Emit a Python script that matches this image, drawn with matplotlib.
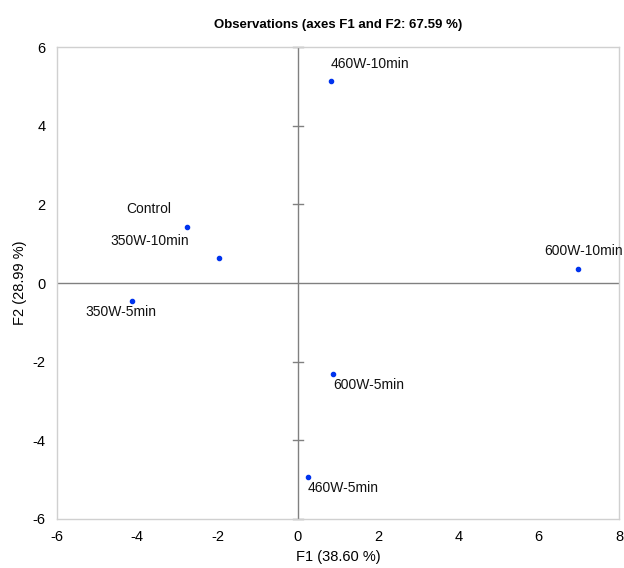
import matplotlib.pyplot as plt
import numpy as np

labels = ['Control', '350W-10min', '350W-5min', '460W-10min',
          '460W-5min', '600W-10min', '600W-5min']
f1 = [-2.77, -1.97, -4.14, 0.82, 0.25, 6.98, 0.87]
f2 = [1.42, 0.64, -0.46, 5.14, -4.94, 0.36, -2.32]

# label offsets in points and alignment, per observation
offsets = {
    'Control': ((-27, 13), 'center'),
    '350W-10min': ((-50, 12), 'center'),
    '350W-5min': ((-8, -8), 'center'),
    '460W-10min': ((0, 12), 'left'),
    '460W-5min': ((0, -8), 'left'),
    '600W-10min': ((4, 13), 'center'),
    '600W-5min': ((0, -8), 'left'),
}

plt.rcParams['font.family'] = ['Liberation Sans', 'DejaVu Sans']
plt.rcParams['axes.unicode_minus'] = False

fig = plt.figure(figsize=(6.24, 5.68), dpi=100)
ax = fig.add_axes([0.0913, 0.0863, 0.9007, 0.8307])

ax.axhline(0, color='#808080', lw=1, zorder=1)
ax.axvline(0, color='#808080', lw=1, zorder=1)

# small ticks on the vertical zero line
for t in np.arange(-6, 7, 2):
    if t != 0:
        ax.plot([-0.12, 0.12], [t, t], color='#808080', lw=1, zorder=1,
                clip_on=False)

ax.scatter(f1, f2, s=9, color='#0033ee', zorder=3)

for name, x, y in zip(labels, f1, f2):
    (dx, dy), ha = offsets[name]
    ax.annotate(name, (x, y), xytext=(dx, dy), textcoords='offset points',
                ha=ha, va='center', fontsize=10, color='#111111')

ax.set_xlim(-6, 8)
ax.set_ylim(-6, 6)
ax.set_xticks(np.arange(-6, 9, 2))
ax.set_yticks(np.arange(-6, 7, 2))
ax.tick_params(length=0, labelsize=10.5, pad=8)
for s in ax.spines.values():
    s.set_color('#d0d0d0')
    s.set_linewidth(1)

ax.set_xlabel('F1 (38.60 %)', fontsize=10.5, labelpad=4)
ax.set_ylabel('F2 (28.99 %)', fontsize=10.5, labelpad=4)
ax.set_title('Observations (axes F1 and F2: 67.59 %)', fontsize=9.5,
             fontweight='bold', pad=14)

fig.savefig('out.png', dpi=100)
